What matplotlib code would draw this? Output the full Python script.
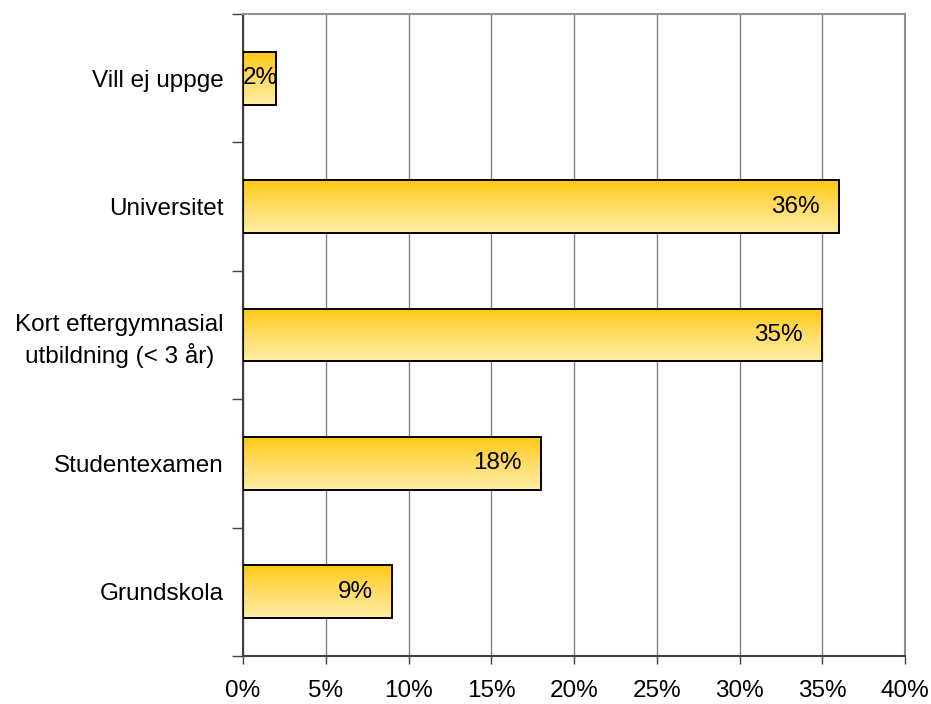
import numpy as np
import matplotlib.pyplot as plt
from matplotlib.colors import LinearSegmentedColormap
from matplotlib.ticker import FixedLocator

plt.rcParams['font.family'] = ['Liberation Sans', 'DejaVu Sans']

categories = ['Grundskola', 'Studentexamen', 'Kort eftergymnasial\nutbildning (< 3 år)',
              'Universitet', 'Vill ej uppge']
values = [9, 18, 35, 36, 2]
xticks = [0, 5, 10, 15, 20, 25, 30, 35, 40]

fs = 17.5
fig = plt.figure(figsize=(9.31, 7.04), dpi=100)
ax = fig.add_axes([243 / 931, 48 / 704, 662 / 931, 642 / 704])

ypos = np.arange(len(categories))
bars = ax.barh(ypos, values, height=0.41, color='none', edgecolor='black', linewidth=1.4, zorder=3)

# vertical gold gradient inside each bar: pale at the bottom, deep gold at the top
cmap = LinearSegmentedColormap.from_list('gold', ['#FFEDA4', '#FFDC66', '#FFC814'])
grad = np.linspace(0, 1, 256).reshape(-1, 1)
for b in bars:
    x0, y0, w, h = b.get_x(), b.get_y(), b.get_width(), b.get_height()
    im = ax.imshow(grad, cmap=cmap, aspect='auto', extent=[x0, x0 + w, y0, y0 + h],
                   origin='lower', zorder=2)
    im.set_clip_path(b)

ax.set_xlim(0, 40)
ax.set_ylim(-0.5, len(categories) - 0.5)

for y, v in zip(ypos, values):
    if v < 5:
        ax.text(0, y, f'{v}%', ha='left', va='center', fontsize=fs, zorder=4)
    else:
        ax.annotate(f'{v}%', (v, y), xytext=(-14, 0), textcoords='offset points',
                    ha='right', va='center', fontsize=fs, zorder=4)

ax.set_xticks(xticks)
ax.set_xticklabels([f'{t}%' for t in xticks], fontsize=fs)
ax.xaxis.grid(True, color='#808080', linewidth=1.0, zorder=0)
ax.set_axisbelow(True)

ax.set_yticks(ypos)
ax.set_yticklabels(categories, fontsize=fs, multialignment='center', linespacing=1.35)
ax.yaxis.set_minor_locator(FixedLocator(np.arange(-0.5, len(categories), 1)))
ax.tick_params(axis='y', which='major', length=0, pad=14)
ax.tick_params(axis='y', which='minor', length=8, width=1.0, color='#404040')
ax.tick_params(axis='x', length=6, width=1.0, color='#404040', pad=11)

for s in ['left', 'bottom']:
    ax.spines[s].set_color('#404040')
    ax.spines[s].set_linewidth(1.5)
for s in ['top', 'right']:
    ax.spines[s].set_color('#909090')
    ax.spines[s].set_linewidth(1.5)

fig.savefig('out.png', dpi=100)
